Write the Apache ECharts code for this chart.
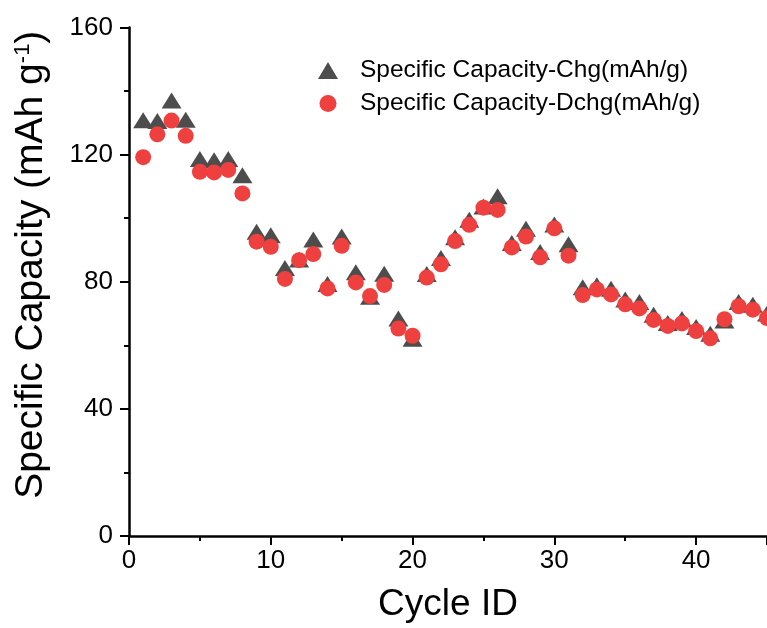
<!DOCTYPE html>
<html>
<head>
<meta charset="utf-8">
<script src="https://cdn.jsdelivr.net/npm/echarts@6/dist/echarts.min.js"></script>
<style>
  html, body { margin: 0; padding: 0; background: #fff; }
  #chart { width: 767px; height: 628px; }
</style>
</head>
<body>
<div id="chart"></div>
<script>
var cycles = [1, 2, 3, 4, 5, 6, 7, 8, 9, 10, 11, 12, 13, 14, 15, 16, 17, 18, 19, 20, 21, 22, 23, 24, 25, 26, 27, 28, 29, 30, 31, 32, 33, 34, 35, 36, 37, 38, 39, 40, 41, 42, 43, 44, 45];
var chgCapacity = [130.8, 130.6, 137, 131, 118.6, 118.2, 118.6, 113.5, 95.7, 94.6, 84.3, 87, 93.3, 79.3, 94.2, 83, 75.3, 82.5, 68.4, 62.1, 82.4, 87.5, 94, 99.5, 103.7, 106.9, 92.2, 96.7, 89.4, 98, 91.8, 78.3, 78.9, 77.8, 74.4, 73.6, 69.6, 67, 68.3, 65.8, 63.6, 67.8, 73.6, 72.8, 70];
var dchgCapacity = [119.2, 126.4, 130.7, 125.9, 114.6, 114.4, 115.2, 107.8, 92.6, 91, 80.9, 86.8, 88.7, 77.9, 91.3, 79.8, 75.5, 79, 65.3, 63, 81.3, 85.5, 92.8, 97.9, 103.3, 102.6, 90.8, 94.2, 87.7, 96.8, 88.2, 75.8, 77.6, 76, 72.9, 71.6, 68, 66.1, 66.9, 64.5, 62.2, 68.2, 72.3, 71.2, 68.6];
var seriesNames = ['Specific Capacity-Chg(mAh/g)', 'Specific Capacity-Dchg(mAh/g)'];

function pairs(xs, ys) {
  return xs.map(function (x, i) { return [x, ys[i]]; });
}

var myChart = echarts.init(document.getElementById('chart'));
var font = 'Liberation Sans, Arial, sans-serif';
var option = {
  animation: false,
  backgroundColor: '#fff',
  grid: { left: 129, right: 0, top: 27.5, bottom: 92 },
  legend: {
    orient: 'vertical',
    left: 313,
    top: 53,
    itemGap: 8,
    itemWidth: 20,
    itemHeight: 17,
    textStyle: { fontFamily: font, fontSize: 24.5, color: '#000', padding: [0, 0, 0, 17] },
    data: [
      { name: seriesNames[0], icon: 'triangle' },
      { name: seriesNames[1], icon: 'circle' }
    ]
  },
  xAxis: {
    type: 'value',
    min: 0,
    max: 45,
    interval: 10,
    name: 'Cycle ID',
    nameLocation: 'middle',
    nameGap: 50,
    nameTextStyle: { fontFamily: font, fontSize: 37, color: '#000' },
    axisLine: { lineStyle: { color: '#000', width: 2.5 } },
    axisTick: { length: 9, lineStyle: { color: '#000', width: 2 } },
    minorTick: { show: true, splitNumber: 2, length: 5, lineStyle: { color: '#000', width: 2 } },
    axisLabel: { fontFamily: font, fontSize: 26, color: '#000', margin: 12, showMaxLabel: false },
    splitLine: { show: false }
  },
  yAxis: {
    type: 'value',
    min: 0,
    max: 160,
    interval: 40,
    name: 'Specific Capacity (mAh g{sup|-1})',
    nameLocation: 'middle',
    nameGap: 78,
    nameTextStyle: {
      fontFamily: font, fontSize: 39, color: '#000',
      padding: [0, 0, 0, 34],
      rich: { sup: { fontFamily: font, fontSize: 22, color: '#000', verticalAlign: 'top', padding: [0, 0, 16, 0] } }
    },
    axisLine: { lineStyle: { color: '#000', width: 2.5 } },
    axisTick: { length: 9, lineStyle: { color: '#000', width: 2 } },
    minorTick: { show: true, splitNumber: 2, length: 5, lineStyle: { color: '#000', width: 2 } },
    axisLabel: { fontFamily: font, fontSize: 26, color: '#000', margin: 16 },
    splitLine: { show: false }
  },
  series: [
    {
      name: seriesNames[0],
      type: 'scatter',
      symbol: 'triangle',
      symbolSize: [20, 16],
      itemStyle: { color: '#4d4d4d', opacity: 1 },
      data: pairs(cycles, chgCapacity),
      z: 2
    },
    {
      name: seriesNames[1],
      type: 'scatter',
      symbol: 'circle',
      symbolSize: 16,
      itemStyle: { color: '#ef4040', opacity: 1 },
      data: pairs(cycles, dchgCapacity),
      z: 3
    }
  ]
};
option && myChart.setOption(option);
</script>
</body>
</html>
